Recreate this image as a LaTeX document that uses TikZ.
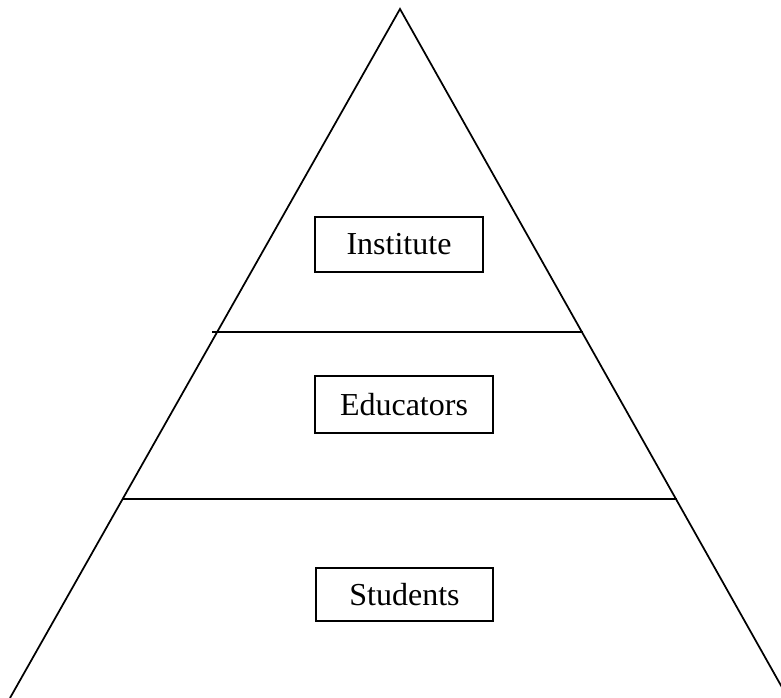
\documentclass[tikz,border=0pt]{standalone}
\usepackage{fontspec}
\setmainfont{Liberation Serif}
\begin{document}
\begin{tikzpicture}[x=0.75pt,y=-0.75pt,
  level/.style={draw=black,line width=1.1pt,inner sep=0pt,align=center,
    font=\fontsize{24}{28}\selectfont},
  edge/.style={draw=black,line width=1.3pt},
  divider/.style={draw=black,line width=1.2pt}]
\useasboundingbox (0,0) rectangle (781,698);
\begin{scope}
\clip (0,0) rectangle (781,698);
\coordinate (apex) at (400,9);
\coordinate (bl) at (10,698);
\coordinate (br) at (788,698);
\draw[edge] (bl) -- (apex) -- (br);
\end{scope}
\coordinate (d1l) at (212,332);
\coordinate (d1r) at (583,332);
\coordinate (d2l) at (122,499);
\coordinate (d2r) at (677,499);
\draw[divider] (d1l) -- (d1r);
\draw[divider] (d2l) -- (d2r);
\node[level,minimum width=126pt,minimum height=41pt] (inst) at (399,244.5) {Institute};
\node[level,minimum width=133.5pt,minimum height=42.5pt] (edu) at (404,404.5) {Educators};
\node[level,minimum width=133pt,minimum height=40pt] (stu) at (404.5,594.5) {Students};
\end{tikzpicture}
\end{document}
